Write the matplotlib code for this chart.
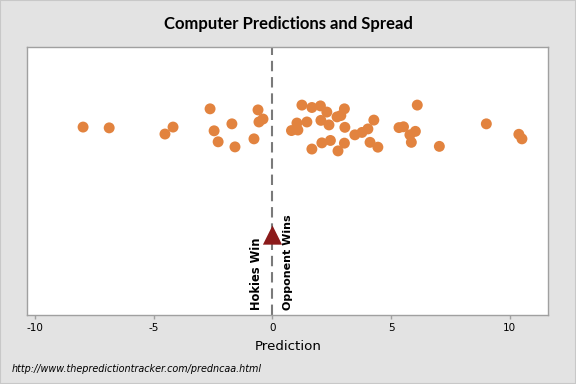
import matplotlib
matplotlib.use("Agg")
import matplotlib.pyplot as plt

# Predictions (x) and vertical jitter (y)
predictions = [-7.98, -6.88, -4.53, -4.19, -2.63, -2.46, -2.29, -1.71, -1.58, -0.78,
               -0.61, -0.40, -0.57, 0.80, 1.07, 1.03, 1.24, 1.45, 1.66, 1.66,
               2.02, 2.04, 2.08, 2.29, 2.38, 2.44, 2.72, 2.88, 2.76, 3.03,
               3.05, 3.03, 3.47, 3.77, 4.02, 4.27, 4.11, 4.44, 5.33, 5.52,
               6.02, 5.79, 5.85, 6.10, 7.03, 9.01, 10.38, 10.51]
jitter = [7.00, 6.97, 6.74, 7.00, 7.68, 6.86, 6.45, 7.12, 6.26, 6.56,
          7.64, 7.30, 7.19, 6.87, 6.89, 7.15, 7.82, 7.19, 7.73, 6.18,
          7.79, 7.25, 6.41, 7.56, 7.08, 6.50, 7.38, 7.43, 6.11, 7.68,
          6.99, 6.40, 6.71, 6.80, 6.93, 7.26, 6.43, 6.25, 6.98, 7.01,
          6.84, 6.71, 6.43, 7.82, 6.28, 7.12, 6.73, 6.56]
spread_x = [0.0]
spread_y = [2.97]
xticks = [-10, -5, 0, 5, 10]

bg = "#E3E3E3"
fig = plt.figure(figsize=(5.76, 3.84), dpi=100, facecolor=bg)
ax = fig.add_axes([0.0474, 0.1805, 0.9045, 0.698])
ax.set_facecolor("white")

ax.axvline(0, color="#7A7A7A", lw=1.5, ls=(0, (5, 2.8)), zorder=1)
ax.scatter(predictions, jitter, s=62, color="#E2833F", edgecolors="none", zorder=3)
ax.scatter(spread_x, spread_y, marker="^", s=190, color="#8B1A1A",
           edgecolors="none", zorder=4)

ax.annotate("Hokies Win", xy=(0, 0.18), xytext=(-6.5, 0), textcoords="offset points",
            rotation=90, ha="right", va="bottom", fontsize=8.3, fontweight="bold",
            color="black", zorder=5)
ax.annotate("Opponent Wins", xy=(0, 0.18), xytext=(7.5, 0), textcoords="offset points",
            rotation=90, ha="left", va="bottom", fontsize=8.0, fontweight="bold",
            color="black", zorder=5)

ax.set_xlim(-10.33, 11.62)
ax.set_ylim(0, 10)
ax.set_xticks(xticks)
ax.set_xticklabels([str(t) for t in xticks])
ax.set_yticks([])
ax.tick_params(axis="x", direction="out", length=3, width=1, color="#A0A0A0",
               labelsize=7.5, pad=3, labelcolor="black")
for sp in ax.spines.values():
    sp.set_color("#A0A0A0")
    sp.set_linewidth(1)

ax.set_xlabel("Prediction", fontsize=9.6, labelpad=5, color="black")
fig.text(0.5, 0.937, "Computer Predictions and Spread", ha="center", va="center",
         fontsize=12, fontweight="bold", color="black", family=["Lato", "DejaVu Sans"])
fig.text(0.021, 0.039, "http://www.thepredictiontracker.com/predncaa.html",
         ha="left", va="center", fontsize=6.9, style="italic", color="black")

# outer border
fig.patches.append(plt.Rectangle((0, 0), 1, 1, transform=fig.transFigure,
                                 fill=False, edgecolor="#C8C8C8", lw=1.5))

fig.savefig("out.png", dpi=100, facecolor=bg)
